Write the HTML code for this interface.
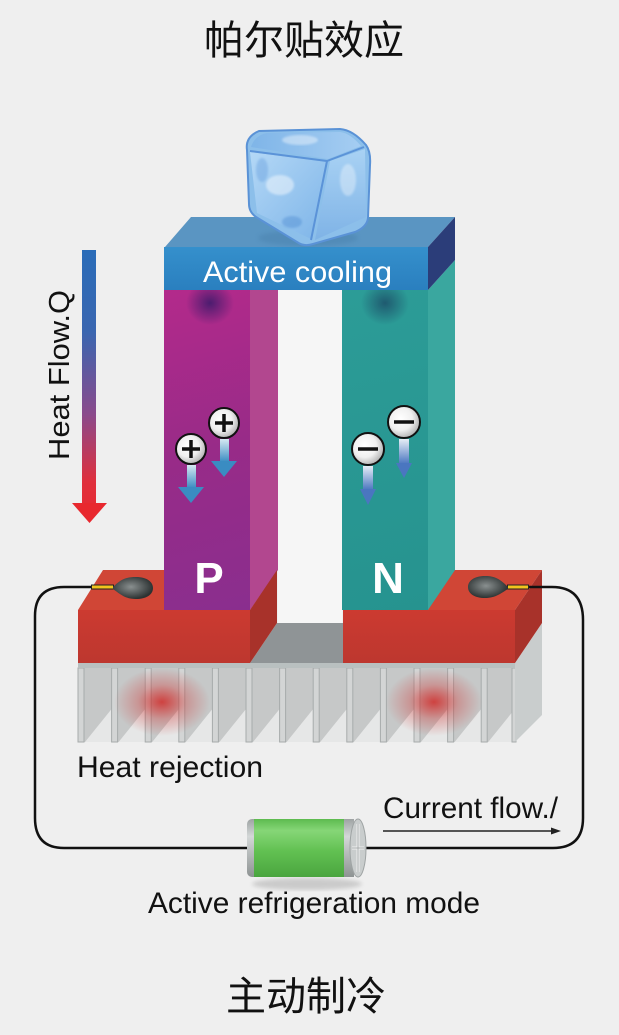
<!DOCTYPE html>
<html><head><meta charset="utf-8">
<style>html,body{margin:0;padding:0;background:#efefef;}svg{display:block}</style></head>
<body>
<svg width="619" height="1035" viewBox="0 0 619 1035" xmlns="http://www.w3.org/2000/svg">
<defs>
  <linearGradient id="hf" x1="0" y1="250" x2="0" y2="523" gradientUnits="userSpaceOnUse">
    <stop offset="0" stop-color="#2a6cb8"/>
    <stop offset="0.3" stop-color="#3a66b0"/>
    <stop offset="0.6" stop-color="#8a4a8c"/>
    <stop offset="0.85" stop-color="#e02f3c"/>
    <stop offset="1" stop-color="#e8282e"/>
  </linearGradient>
  <linearGradient id="pf" x1="164" y1="290" x2="250" y2="610" gradientUnits="userSpaceOnUse">
    <stop offset="0" stop-color="#b32a8b"/>
    <stop offset="0.5" stop-color="#982b88"/>
    <stop offset="1" stop-color="#8a2e8e"/>
  </linearGradient>
  <linearGradient id="nf" x1="342" y1="290" x2="428" y2="610" gradientUnits="userSpaceOnUse">
    <stop offset="0" stop-color="#2c9c97"/>
    <stop offset="1" stop-color="#26938f"/>
  </linearGradient>
  <radialGradient id="pspot" cx="0.5" cy="0.5" r="0.5">
    <stop offset="0" stop-color="#3a1a6a" stop-opacity="0.85"/>
    <stop offset="1" stop-color="#3a1a6a" stop-opacity="0"/>
  </radialGradient>
  <radialGradient id="nspot" cx="0.5" cy="0.5" r="0.5">
    <stop offset="0" stop-color="#1c4a66" stop-opacity="0.8"/>
    <stop offset="1" stop-color="#1c4a66" stop-opacity="0"/>
  </radialGradient>
  <radialGradient id="glow" cx="0.5" cy="0.5" r="0.5">
    <stop offset="0" stop-color="#d0201e" stop-opacity="0.8"/>
    <stop offset="0.5" stop-color="#d0201e" stop-opacity="0.3"/>
    <stop offset="1" stop-color="#d0201e" stop-opacity="0"/>
  </radialGradient>
  <linearGradient id="redf" x1="0" y1="0" x2="0" y2="1">
    <stop offset="0" stop-color="#cc3a30"/>
    <stop offset="1" stop-color="#bd372f"/>
  </linearGradient>
  <linearGradient id="plf" x1="0" y1="0" x2="0" y2="1">
    <stop offset="0" stop-color="#3590cc"/>
    <stop offset="1" stop-color="#2a7fbf"/>
  </linearGradient>
  <radialGradient id="circ" cx="0.4" cy="0.4" r="0.6">
    <stop offset="0" stop-color="#ffffff"/>
    <stop offset="0.6" stop-color="#f0f0f0"/>
    <stop offset="1" stop-color="#b8b8b8"/>
  </radialGradient>
  <linearGradient id="parr" x1="0" y1="0" x2="0" y2="1">
    <stop offset="0" stop-color="#d6e8f2"/>
    <stop offset="1" stop-color="#3a8cc2"/>
  </linearGradient>
  <linearGradient id="narr" x1="0" y1="0" x2="0" y2="1">
    <stop offset="0" stop-color="#e6eef6"/>
    <stop offset="1" stop-color="#4a76c0"/>
  </linearGradient>
  <radialGradient id="probe" cx="0.45" cy="0.45" r="0.55">
    <stop offset="0" stop-color="#8a9090"/>
    <stop offset="1" stop-color="#2c3232"/>
  </radialGradient>
  <linearGradient id="bat" x1="0" y1="0" x2="0" y2="1">
    <stop offset="0" stop-color="#5dbb4f"/>
    <stop offset="0.2" stop-color="#86d677"/>
    <stop offset="0.55" stop-color="#62c152"/>
    <stop offset="1" stop-color="#4aa53f"/>
  </linearGradient>
  <linearGradient id="cap" x1="0" y1="0" x2="0" y2="1">
    <stop offset="0" stop-color="#9ea3a3"/>
    <stop offset="0.3" stop-color="#d4d8d8"/>
    <stop offset="1" stop-color="#8e9393"/>
  </linearGradient>
  <linearGradient id="icef" x1="0" y1="0" x2="1" y2="1">
    <stop offset="0" stop-color="#b4d8f6"/>
    <stop offset="1" stop-color="#7db4e8"/>
  </linearGradient>
  <linearGradient id="icet" x1="0" y1="0" x2="1" y2="0">
    <stop offset="0" stop-color="#7fb5e8"/>
    <stop offset="1" stop-color="#a5cdf2"/>
  </linearGradient>
  <linearGradient id="icer" x1="0" y1="0" x2="0" y2="1">
    <stop offset="0" stop-color="#a9d2f4"/>
    <stop offset="1" stop-color="#7fb3e6"/>
  </linearGradient>
  <filter id="blur2"><feGaussianBlur stdDeviation="2"/></filter>
  <filter id="blur1"><feGaussianBlur stdDeviation="1"/></filter>
</defs>

<rect width="619" height="1035" fill="#efefef"/>

<!-- Title -->
<text x="304" y="54" font-size="40" text-anchor="middle" fill="#111" font-family="Liberation Sans, 'Noto Sans CJK SC', sans-serif">帕尔贴效应</text>

<!-- Heat flow arrow -->
<rect x="82" y="250" width="14" height="254" fill="url(#hf)"/>
<polygon points="72,503 107,503 89.5,523" fill="#e8282e"/>
<text transform="translate(69,375) rotate(-90)" x="0" y="0" font-size="29" text-anchor="middle" textLength="170" lengthAdjust="spacingAndGlyphs" fill="#111" font-family="Liberation Sans, sans-serif">Heat Flow.Q</text>

<!-- gap between legs -->
<rect x="278" y="290" width="64" height="333" fill="#f6f6f6"/>

<!-- Red block top faces (drawn before legs) -->
<polygon points="78,610 103,570 277,570 250,610" fill="#d04636"/>
<polygon points="343,610 368,570 542,570 515,610" fill="#d04636"/>

<!-- P leg -->
<rect x="164" y="290" width="86" height="320" fill="url(#pf)"/>
<polygon points="250,290 278,290 278,570 250,610" fill="#b2478f"/>
<ellipse cx="210" cy="303" rx="24" ry="22" fill="url(#pspot)"/>

<!-- N leg -->
<rect x="342" y="290" width="86" height="320" fill="url(#nf)"/>
<polygon points="428,290 455,260 455,570 428,610" fill="#3aa79f"/>
<ellipse cx="385" cy="303" rx="24" ry="22" fill="url(#nspot)"/>

<!-- Top plate -->
<polygon points="165,247 191,217 455,217 428,247" fill="#5a95c2"/>
<rect x="164" y="247" width="264" height="43" fill="url(#plf)"/>
<polygon points="428,247 455,217 455,260 428,290" fill="#2b3d79"/>
<text x="203" y="282" font-size="30" fill="#fff" textLength="189" lengthAdjust="spacingAndGlyphs" font-family="Liberation Sans, sans-serif">Active cooling</text>

<!-- Ice cube -->
<g>
  <ellipse cx="308" cy="238" rx="50" ry="8" fill="#3a6e9a" opacity="0.25" filter="url(#blur2)"/>
  <path d="M247,150 Q245,137 259,131 L340,129 Q353,130 366,145 Q371,152 370,165 L368,218 Q367,227 355,232 L313,244 Q304,247 297,242 L256,217 Q249,212 249,204 Z" fill="#8cbfea" stroke="#5a92d6" stroke-width="2"/>
  <path d="M251,147 Q255,135 267,133 L340,132 Q350,133 361,146 L328,159 Z" fill="url(#icet)"/>
  <path d="M250,152 L327,162 L311,239 L257,213 Z" fill="url(#icef)"/>
  <path d="M330,161 L365,149 L366,217 L315,240 Z" fill="url(#icer)"/>
  <path d="M250,151 L327,161 L311,240" fill="none" stroke="#5b93d8" stroke-width="2" stroke-linejoin="round"/>
  <path d="M327,161 L364,147" fill="none" stroke="#5b93d8" stroke-width="2"/>
  <ellipse cx="280" cy="185" rx="14" ry="10" fill="#ffffff" opacity="0.45" filter="url(#blur1)"/>
  <ellipse cx="300" cy="140" rx="18" ry="5" fill="#ffffff" opacity="0.4" filter="url(#blur1)"/>
  <ellipse cx="348" cy="180" rx="8" ry="16" fill="#ffffff" opacity="0.35" filter="url(#blur1)"/>
  <ellipse cx="292" cy="222" rx="10" ry="6" fill="#4a88d0" opacity="0.4" filter="url(#blur1)"/>
  <ellipse cx="262" cy="170" rx="6" ry="12" fill="#5a95da" opacity="0.35" filter="url(#blur1)"/>
</g>

<!-- Charge carriers P -->
<rect x="187" y="465" width="9" height="23" fill="url(#parr)"/>
<polygon points="178,487 204,487 191,503" fill="#3a8cc2"/>
<rect x="220" y="439" width="9" height="23" fill="url(#parr)"/>
<polygon points="211,461 237,461 224,477" fill="#3a8cc2"/>
<circle cx="191" cy="449" r="15" fill="url(#circ)" stroke="#111" stroke-width="2"/>
<path d="M182,449 H200 M191,440 V458" stroke="#111" stroke-width="3.5"/>
<circle cx="224" cy="423" r="15" fill="url(#circ)" stroke="#111" stroke-width="2"/>
<path d="M215,423 H233 M224,414 V432" stroke="#111" stroke-width="3.5"/>

<!-- Charge carriers N -->
<rect x="363" y="466" width="10" height="24" fill="url(#narr)"/>
<polygon points="360,489 376,489 368,505" fill="#4a76c0"/>
<rect x="399" y="439" width="10" height="25" fill="url(#narr)"/>
<polygon points="396,463 412,463 404,478" fill="#4a76c0"/>
<circle cx="368" cy="449" r="16" fill="url(#circ)" stroke="#111" stroke-width="2"/>
<path d="M358,449 H378" stroke="#111" stroke-width="3.5"/>
<circle cx="404" cy="422" r="16" fill="url(#circ)" stroke="#111" stroke-width="2"/>
<path d="M394,422 H414" stroke="#111" stroke-width="3.5"/>

<!-- Heat sink -->
<rect x="78" y="668" width="437" height="74" fill="#c6c8c8"/>
<g fill="#e6e7e7">
  <polygon points="85,742 111.6,709 111.6,742"/>
  <polygon points="118.6,742 145.2,709 145.2,742"/>
  <polygon points="152.2,742 178.8,709 178.8,742"/>
  <polygon points="185.8,742 212.4,709 212.4,742"/>
  <polygon points="219.4,742 246,709 246,742"/>
  <polygon points="253,742 279.6,709 279.6,742"/>
  <polygon points="286.6,742 313.2,709 313.2,742"/>
  <polygon points="320.2,742 346.8,709 346.8,742"/>
  <polygon points="353.8,742 380.4,709 380.4,742"/>
  <polygon points="387.4,742 414,709 414,742"/>
  <polygon points="421,742 447.6,709 447.6,742"/>
  <polygon points="454.6,742 481.2,709 481.2,742"/>
  <polygon points="488.2,742 514.8,709 514.8,742"/>
</g>
<g fill="#d3d5d5" stroke="#a7abab" stroke-width="1">
  <rect x="78" y="668" width="6" height="74"/>
  <rect x="111.6" y="668" width="6" height="74"/>
  <rect x="145.2" y="668" width="6" height="74"/>
  <rect x="178.8" y="668" width="6" height="74"/>
  <rect x="212.4" y="668" width="6" height="74"/>
  <rect x="246" y="668" width="6" height="74"/>
  <rect x="279.6" y="668" width="6" height="74"/>
  <rect x="313.2" y="668" width="6" height="74"/>
  <rect x="346.8" y="668" width="6" height="74"/>
  <rect x="380.4" y="668" width="6" height="74"/>
  <rect x="414" y="668" width="6" height="74"/>
  <rect x="447.6" y="668" width="6" height="74"/>
  <rect x="481.2" y="668" width="6" height="74"/>
  <rect x="512" y="668" width="4" height="74"/>
</g>
<polygon points="515,663 542,623 542,715 515,742" fill="#c9cdcd"/>
<rect x="78" y="663" width="437" height="5" fill="#b9c0c0"/>
<ellipse cx="162" cy="702" rx="48" ry="34" fill="url(#glow)"/>
<ellipse cx="434" cy="702" rx="48" ry="34" fill="url(#glow)"/>

<!-- Gray plate between blocks -->
<polygon points="250,663 277,623 343,623 343,663" fill="#8f9496"/>

<!-- Red block front & side faces -->
<rect x="78" y="610" width="172" height="53" fill="url(#redf)"/>
<polygon points="250,610 277,570 277,623 250,663" fill="#a8322a"/>
<rect x="343" y="610" width="172" height="53" fill="url(#redf)"/>
<polygon points="515,610 542,570 542,623 515,663" fill="#a8322a"/>

<text x="209" y="593" font-size="44" font-weight="bold" fill="#fff" text-anchor="middle" font-family="Liberation Sans, sans-serif">P</text>
<text x="388" y="593" font-size="44" font-weight="bold" fill="#fff" text-anchor="middle" font-family="Liberation Sans, sans-serif">N</text>

<!-- Wires -->
<path d="M92,587 L64,587 Q35,587 35,616 L35,818 Q35,848 64,848 L250,848" fill="none" stroke="#111" stroke-width="2.5"/>
<path d="M528,587 L552,587 Q583,587 583,620 L583,818 Q583,848 553,848 L364,848" fill="none" stroke="#111" stroke-width="2.5"/>

<!-- Probes -->
<line x1="91" y1="587" x2="114" y2="587" stroke="#222" stroke-width="5"/>
<line x1="92" y1="587" x2="113" y2="587" stroke="#f2c41e" stroke-width="3"/>
<path d="M113,587 C120,580 125,577 136,577 C147,577 153,582 153,588 C153,595 146,599 136,599 C125,599 120,594 113,589 Z" fill="url(#probe)"/>
<line x1="507" y1="587" x2="529" y2="587" stroke="#222" stroke-width="5"/>
<line x1="508" y1="587" x2="528" y2="587" stroke="#f2c41e" stroke-width="3"/>
<path d="M508,587 C501,580 496,576 485,576 C474,576 468,581 468,587 C468,594 475,598 485,598 C496,598 501,593 508,589 Z" fill="url(#probe)"/>

<!-- Text labels -->
<text x="77" y="777" font-size="30" fill="#111" textLength="186" lengthAdjust="spacingAndGlyphs" font-family="Liberation Sans, sans-serif">Heat rejection</text>
<text x="383" y="818" font-size="30" fill="#111" textLength="175" lengthAdjust="spacingAndGlyphs" font-family="Liberation Sans, sans-serif">Current flow./</text>
<line x1="383" y1="831" x2="553" y2="831" stroke="#222" stroke-width="1.5"/>
<polygon points="561,831 551,827.5 551,834.5" fill="#222"/>

<!-- Battery -->
<ellipse cx="307" cy="884" rx="55" ry="6" fill="#000" opacity="0.15" filter="url(#blur2)"/>
<rect x="247" y="819" width="12" height="58" rx="5" fill="url(#cap)"/>
<rect x="254" y="819" width="92" height="58" fill="url(#bat)"/>
<rect x="344" y="819" width="10" height="58" fill="url(#cap)"/>
<ellipse cx="358" cy="848" rx="8" ry="29" fill="#c9cdcd" stroke="#9ea3a3" stroke-width="1"/>
<path d="M358,824 V872 M352,848 H364" stroke="#eef0f0" stroke-width="3"/>
<path d="M358,824 V872 M352,848 H364" stroke="#a8acac" stroke-width="1"/>

<text x="148" y="913" font-size="30" fill="#111" textLength="332" lengthAdjust="spacingAndGlyphs" font-family="Liberation Sans, sans-serif">Active refrigeration mode</text>

<!-- Bottom title -->
<text x="306" y="1010" font-size="40" text-anchor="middle" fill="#111" font-family="Liberation Sans, 'Noto Sans CJK SC', sans-serif">主动制冷</text>
</svg>
</body></html>
